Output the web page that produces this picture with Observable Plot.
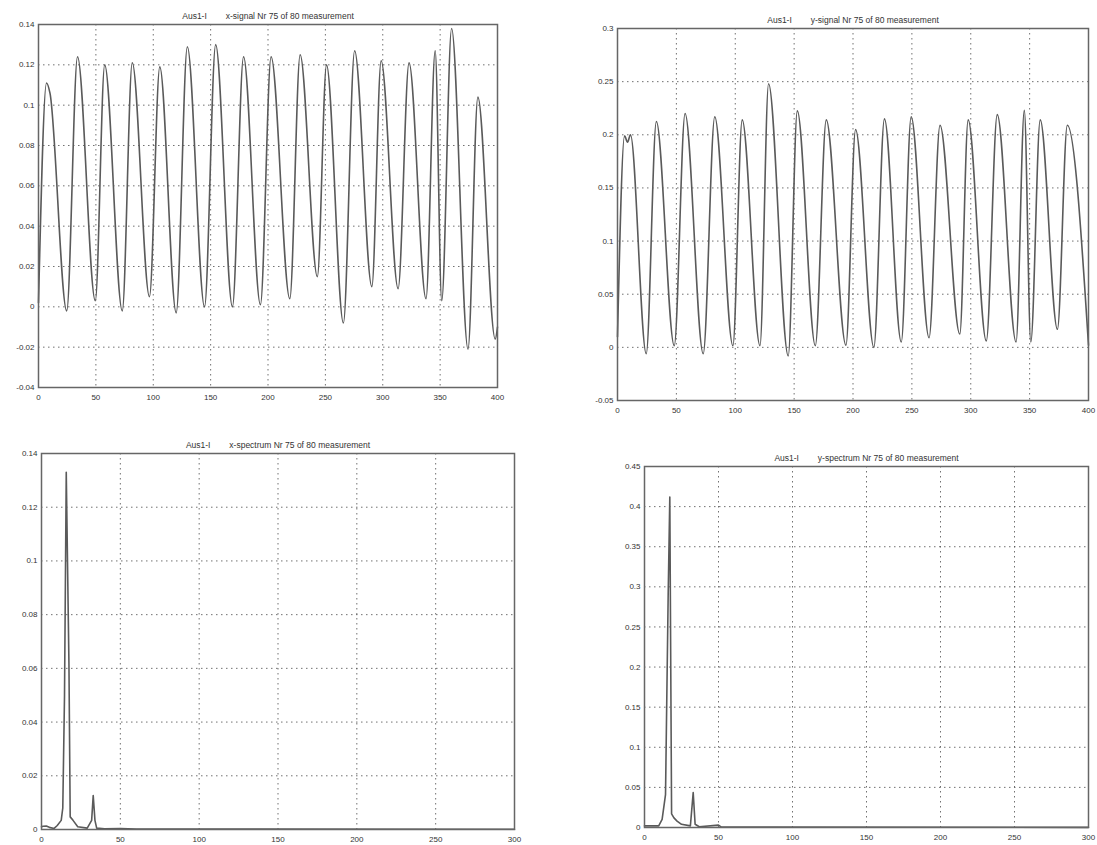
<!DOCTYPE html>
<html><head><meta charset="utf-8">
<script src="https://cdn.jsdelivr.net/npm/d3@7"></script>
<script src="https://cdn.jsdelivr.net/npm/@observablehq/plot@0.6"></script>
<style>
html,body{margin:0;padding:0;background:#fff;}
#wrap{position:relative;width:1097px;height:845px;overflow:hidden;background:#fff;}
#wrap svg{position:absolute;}
</style></head><body><div id="wrap"></div>
<script>
// ---- titles ----
const titleXSignal = "Aus1-I\u00a0\u00a0\u00a0\u00a0\u00a0\u00a0\u00a0\u00a0x-signal Nr 75 of 80 measurement";
const titleYSignal = "Aus1-I\u00a0\u00a0\u00a0\u00a0\u00a0\u00a0\u00a0\u00a0y-signal Nr 75 of 80 measurement";
const titleXSpec = "Aus1-I\u00a0\u00a0\u00a0\u00a0\u00a0\u00a0\u00a0\u00a0x-spectrum Nr 75 of 80 measurement";
const titleYSpec = "Aus1-I\u00a0\u00a0\u00a0\u00a0\u00a0\u00a0\u00a0\u00a0y-spectrum Nr 75 of 80 measurement";

// ---- tick values ----
const signalXTicks = [0, 50, 100, 150, 200, 250, 300, 350, 400];
const specXTicks = [0, 50, 100, 150, 200, 250, 300];
const xSignalYTicks = [-0.04, -0.02, 0, 0.02, 0.04, 0.06, 0.08, 0.1, 0.12, 0.14];
const ySignalYTicks = [-0.05, 0, 0.05, 0.1, 0.15, 0.2, 0.25, 0.3];
const xSpecYTicks = [0, 0.02, 0.04, 0.06, 0.08, 0.1, 0.12, 0.14];
const ySpecYTicks = [0, 0.05, 0.1, 0.15, 0.2, 0.25, 0.3, 0.35, 0.4, 0.45];

// ---- x-signal (sample, value) read at extrema ----
const xSignalT = [0, 7, 10, 24.6, 34, 49.5, 57.7, 73, 81.7, 96.7, 105.7, 120, 129.7, 144.7, 154.4, 169, 178.7, 193.4, 202.7, 219, 228, 243, 251, 265.7, 275.5, 290.5, 298.6, 313.4, 322.9, 337.7, 345.7, 351.4, 360, 374.3, 382.9, 398, 400];
const xSignalV = [0.002, 0.111, 0.106, -0.002, 0.124, 0.003, 0.120, -0.002, 0.121, 0.005, 0.119, -0.003, 0.129, 0.000, 0.130, 0.000, 0.124, 0.001, 0.124, 0.004, 0.125, 0.015, 0.120, -0.008, 0.127, 0.010, 0.122, 0.009, 0.121, 0.004, 0.127, 0.003, 0.138, -0.021, 0.104, -0.016, -0.010];

// ---- y-signal ----
const ySignalT = [0, 6, 8.5, 11, 24.4, 33, 48.2, 57.4, 72.8, 82.6, 98, 105.9, 121, 128.3, 145, 152.7, 168, 177.3, 194, 202.2, 217.7, 226.7, 241, 249.4, 264.6, 273.9, 290.7, 297.8, 313.2, 322.5, 338.5, 345.5, 351, 359, 373.6, 382, 400];
const ySignalV = [0.010, 0.199, 0.193, 0.200, -0.006, 0.2125, 0.0015, 0.220, -0.006, 0.217, 0.0015, 0.214, 0.0015, 0.248, -0.008, 0.2225, 0.0015, 0.214, 0.002, 0.205, 0.000, 0.215, 0.005, 0.217, 0.009, 0.209, 0.0125, 0.214, 0.006, 0.219, 0.005, 0.223, 0.005, 0.214, 0.017, 0.209, 0.002];

// ---- x-spectrum (frequency, amplitude) ----
const xSpecF = [0, 1, 3, 5, 8, 10, 12.5, 13.5, 14.6, 15.7, 17.4, 18.2, 20, 23, 29, 31.8, 32.8, 33.9, 35, 40, 50, 60, 300];
const xSpecA = [0.001, 0.0012, 0.0013, 0.0008, 0.0004, 0.0015, 0.0034, 0.008, 0.05, 0.133, 0.062, 0.0047, 0.0034, 0.001, 0.0005, 0.0034, 0.0126, 0.0034, 0.0005, 0.0003, 0.0004, 0.0002, 0.0001];

// ---- y-spectrum ----
const ySpecF = [0, 5, 9.6, 11.9, 14.2, 16, 17.1, 18.3, 19.9, 22, 25, 31, 32.9, 34.2, 37, 50, 52, 300];
const ySpecA = [0.002, 0.002, 0.002, 0.010, 0.041, 0.29, 0.412, 0.017, 0.012, 0.008, 0.004, 0.002, 0.0436, 0.004, 0.001, 0.003, 0.0005, 0.0002];

const fmt = d => String(+(+d).toFixed(3));
const wrap = document.getElementById("wrap");

function panel({t, v, xDomain, xTicks, yDomain, yTicks, title, box, curve}) {
  const mL = 42, mT = 24, mR = 10, mB = 22;
  const w = box.x1 - box.x0 + mL + mR;
  const h = box.y1 - box.y0 + mT + mB;
  const data = t.map((d, i) => ({x: d, y: v[i]}));
  const grid = {stroke: "#444", strokeOpacity: 0.85, strokeWidth: 0.9, strokeDasharray: "1.5,3.5"};
  const chart = Plot.plot({
    width: w, height: h,
    marginLeft: mL, marginRight: mR, marginTop: mT, marginBottom: mB,
    style: {fontFamily: "Liberation Sans, Arial, sans-serif", fontSize: "8px", color: "#333", background: "transparent", overflow: "visible"},
    x: {domain: xDomain, label: null},
    y: {domain: yDomain, label: null},
    marks: [
      Plot.gridX(xTicks, grid),
      Plot.gridY(yTicks, grid),
      Plot.axisX(xTicks, {tickSize: 0, tickPadding: 7, tickFormat: fmt, fontSize: 8}),
      Plot.axisY(yTicks, {tickSize: 0, tickPadding: 4, tickFormat: fmt, fontSize: 8}),
      Plot.line(data, {x: "x", y: "y", stroke: "#5a5a5a", strokeWidth: 1.6, curve}),
      Plot.frame({stroke: "#666", strokeWidth: 1.5}),
      Plot.text([title], {frameAnchor: "top", dy: -12, text: d => d, fontSize: 8.5, fill: "#333"})
    ]
  });
  chart.style.left = (box.x0 - mL) + "px";
  chart.style.top = (box.y0 - mT) + "px";
  wrap.appendChild(chart);
}

panel({t: xSignalT, v: xSignalV, xDomain: [0, 400], xTicks: signalXTicks, yDomain: [-0.04, 0.14], yTicks: xSignalYTicks,
  title: titleXSignal, box: {x0: 38, x1: 497, y0: 24, y1: 387}, curve: "monotone-x"});
panel({t: ySignalT, v: ySignalV, xDomain: [0, 400], xTicks: signalXTicks, yDomain: [-0.05, 0.3], yTicks: ySignalYTicks,
  title: titleYSignal, box: {x0: 617, x1: 1088, y0: 28, y1: 400}, curve: "monotone-x"});
panel({t: xSpecF, v: xSpecA, xDomain: [0, 300], xTicks: specXTicks, yDomain: [0, 0.14], yTicks: xSpecYTicks,
  title: titleXSpec, box: {x0: 41, x1: 514, y0: 453, y1: 829}, curve: "linear"});
panel({t: ySpecF, v: ySpecA, xDomain: [0, 300], xTicks: specXTicks, yDomain: [0, 0.45], yTicks: ySpecYTicks,
  title: titleYSpec, box: {x0: 644, x1: 1088, y0: 466, y1: 827}, curve: "linear"});
</script>
</body></html>
